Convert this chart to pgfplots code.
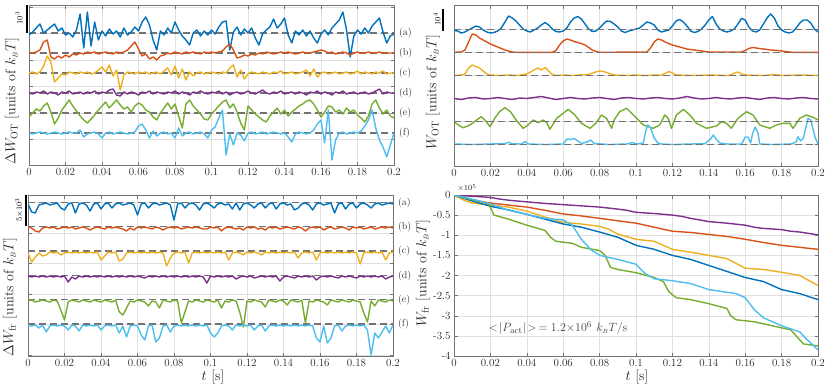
\documentclass[border=0pt]{standalone}
\usepackage{pgfplots}
\pgfplotsset{compat=1.18}
\usepackage{pgfplotstable}

% MATLAB default line colours
\definecolor{mA}{rgb}{0,0.447,0.741}
\definecolor{mB}{rgb}{0.850,0.325,0.098}
\definecolor{mC}{rgb}{0.929,0.694,0.125}
\definecolor{mD}{rgb}{0.494,0.184,0.556}
\definecolor{mE}{rgb}{0.466,0.674,0.188}
\definecolor{mF}{rgb}{0.301,0.745,0.933}

% offset traces, y in panel rows (top = small), one column per trace
\pgfplotstableread{
t a b c d e f
0.000 35 53 73 93 117 133
0.002 32 53 72 94 113 134
0.004 28 52 74 92 109 133
0.006 24 50 72 93 111 132
0.008 33 42 66 91 106 133
0.010 30 40 56 94 103 134
0.012 27 57 62 92 112 133
0.014 24 59 82 93 124 132
0.016 31 56 78 95 118 133
0.018 28 58 74 92 110 134
0.020 35 55 75 93 105 133
0.022 33 57 72 91 100 132
0.024 37 54 73 94 106 133
0.026 30 55 74 93 111 133
0.028 14 53 72 92 116 130
0.030 48 54 73 94 120 137
0.032 12 52 72 92 123 134
0.034 46 53 74 93 119 133
0.036 22 52 73 91 115 132
0.038 40 54 70 94 110 134
0.040 31 53 67 92 106 138
0.042 36 52 72 93 102 133
0.044 29 53 65 90 108 132
0.046 34 54 76 89 104 134
0.048 31 52 70 95 100 133
0.050 37 53 90 96 105 132
0.052 28 52 75 92 109 133
0.054 35 50 72 94 107 134
0.056 32 46 73 92 112 133
0.058 27 42 74 93 106 132
0.060 31 49 72 95 103 126
0.062 22 56 73 92 105 124
0.064 17 54 72 93 110 130
0.066 25 59 74 91 112 138
0.068 40 57 73 94 117 131
0.070 50 60 72 92 120 136
0.072 31 56 74 93 113 133
0.074 35 55 71 94 108 132
0.076 28 53 68 92 103 134
0.078 33 54 75 93 109 133
0.080 22 52 66 91 104 138
0.082 30 53 78 94 116 128
0.084 36 54 69 92 128 136
0.086 40 52 80 93 104 133
0.088 45 53 72 95 100 132
0.090 33 52 76 92 106 134
0.092 30 53 73 93 110 133
0.094 36 54 72 91 114 132
0.096 31 52 74 93 119 134
0.098 35 53 73 94 120 138
0.100 30 52 72 92 114 130
0.102 34 53 73 93 110 127
0.104 27 52 74 91 106 118
0.106 22 51 72 94 102 110
0.108 21 47 73 92 100 155
0.110 50 44 68 95 108 134
0.112 32 50 65 93 104 145
0.114 27 58 77 92 112 133
0.116 35 57 70 94 123 135
0.118 29 55 79 93 130 141
0.120 33 56 74 91 106 133
0.122 28 54 72 93 110 132
0.124 38 55 73 94 114 134
0.126 45 53 74 92 117 133
0.128 34 54 72 90 120 132
0.130 30 52 73 93 122 134
0.132 27 53 74 94 116 133
0.134 19 54 72 92 112 132
0.136 28 53 73 93 108 133
0.138 24 52 71 91 114 134
0.140 18 53 74 94 110 133
0.142 35 52 73 93 116 137
0.144 43 53 72 92 112 142
0.146 31 54 74 94 109 134
0.148 35 53 73 92 106 132
0.150 30 52 72 93 104 133
0.152 36 53 70 95 101 134
0.154 31 53 76 92 100 133
0.156 38 52 69 93 104 130
0.158 43 51 77 91 110 124
0.160 34 50 73 94 117 120
0.162 30 51 72 92 112 143
0.164 35 53 74 93 106 110
0.166 28 52 73 95 107 160
0.168 24 54 72 92 112 140
0.170 20 53 74 93 110 133
0.172 12 52 73 91 114 132
0.174 30 53 72 94 108 134
0.176 57 55 74 93 112 133
0.178 36 53 73 92 110 132
0.180 30 52 71 94 115 133
0.182 34 53 74 93 118 131
0.184 28 53 72 92 122 126
0.186 33 52 73 94 116 120
0.188 26 53 74 93 104 110
0.190 22 53 72 91 100 128
0.192 18 52 73 89 108 140
0.194 32 53 71 94 114 147
0.196 43 53 74 92 110 157
0.198 36 53 73 93 116 145
0.200 34 53 73 93 118 133
}\tlData

\pgfplotstableread{
t a b c d e f
0.000 204 227 253 276 301 325
0.002 212 228 262 277 300 326
0.004 213 231 257 276 302 325
0.006 205 232 253 277 301 328
0.008 204 228 256 276 300 325
0.010 203 227 255 277 301 332
0.012 205 228 252 276 302 326
0.014 204 227 253 277 300 325
0.016 203 229 252 276 301 326
0.018 208 228 255 277 310 325
0.020 210 227 253 276 320 326
0.022 204 228 252 282 302 330
0.024 203 227 253 277 300 325
0.026 213 229 252 279 301 326
0.028 204 228 253 276 302 331
0.030 203 227 252 277 300 325
0.032 205 228 253 276 301 326
0.034 211 230 252 277 302 325
0.036 204 228 253 276 300 326
0.038 203 227 252 277 301 325
0.040 209 228 260 276 302 330
0.042 204 229 256 277 300 326
0.044 203 227 252 276 301 325
0.046 208 228 253 277 302 326
0.048 204 227 252 276 300 325
0.050 203 228 261 277 312 333
0.052 205 229 259 276 315 326
0.054 204 231 253 277 308 337
0.056 203 228 252 276 301 326
0.058 205 230 253 277 302 325
0.060 215 227 252 276 300 326
0.062 204 228 253 277 301 335
0.064 203 227 252 278 302 340
0.066 208 228 253 276 306 326
0.068 204 229 252 277 301 325
0.070 203 227 253 276 302 342
0.072 205 228 252 277 308 338
0.074 204 230 253 276 300 326
0.076 203 228 266 277 301 325
0.078 205 227 258 276 302 332
0.080 220 228 253 277 300 326
0.082 204 227 252 276 301 325
0.084 203 229 253 277 323 326
0.086 208 228 252 276 312 325
0.088 204 227 263 277 301 326
0.090 203 228 253 276 302 325
0.092 205 227 252 277 300 326
0.094 210 228 253 276 301 325
0.096 204 229 252 277 302 326
0.098 203 229 253 283 300 325
0.100 205 227 252 276 301 333
0.102 208 228 253 277 302 337
0.104 204 227 252 276 300 333
0.106 203 231 253 277 308 326
0.108 205 228 252 276 301 325
0.110 204 227 260 277 302 326
0.112 209 228 253 276 300 330
0.114 203 229 252 279 301 325
0.116 210 228 253 277 312 326
0.118 204 230 255 276 327 325
0.120 203 227 252 277 301 326
0.122 205 228 253 276 302 325
0.124 208 227 252 278 300 330
0.126 204 229 253 277 301 326
0.128 203 228 255 276 302 325
0.130 208 230 252 277 307 331
0.132 204 227 253 276 300 326
0.134 203 228 252 277 301 325
0.136 209 227 253 276 302 326
0.138 204 229 252 281 300 325
0.140 203 228 253 277 301 326
0.142 205 227 252 276 305 325
0.144 204 228 253 277 300 326
0.146 210 229 252 278 301 325
0.148 208 227 258 276 302 326
0.150 204 228 253 277 300 325
0.152 203 231 252 276 323 326
0.154 205 228 253 277 301 325
0.156 210 227 252 276 302 326
0.158 204 228 260 280 300 338
0.160 203 227 253 277 301 342
0.162 205 230 252 276 302 326
0.164 204 228 253 277 305 343
0.166 203 227 252 276 300 338
0.168 213 229 253 277 301 326
0.170 204 228 252 278 302 325
0.172 203 227 253 276 300 331
0.174 209 228 252 277 301 326
0.176 204 230 253 276 302 325
0.178 203 227 252 277 300 326
0.180 208 228 253 278 301 325
0.182 204 227 264 276 302 326
0.184 203 229 253 277 313 325
0.186 205 228 252 276 322 330
0.188 208 227 253 277 301 355
0.190 204 229 252 276 306 333
0.192 203 228 253 277 300 338
0.194 205 227 252 276 301 332
0.196 204 228 260 279 302 326
0.198 203 227 253 277 300 333
0.200 204 228 252 276 301 325
}\blData

\pgfplotsset{mpanel/.style={
  scale only axis, clip mode=individual,
  xmin=0, xmax=0.2,
  xtick={0,0.02,0.04,0.06,0.08,0.1,0.12,0.14,0.16,0.18,0.2},
  xticklabels={0,0.02,0.04,0.06,0.08,0.1,0.12,0.14,0.16,0.18,0.2},
  grid=major, grid style={draw=black!12, line width=0.5bp},
  axis line style={draw=black!55, line width=0.6bp},
  tick style={draw=black!55, line width=0.5bp},
  tick align=inside, major tick length=3.5bp,
  ticklabel style={font=\fontsize{11}{12}\selectfont, text=black!85},
  every axis plot/.append style={line width=1.4bp, line join=round},
},
nolabels/.style={yticklabels={,,,,,,,,}}}
\tikzset{
  basel/.style={draw=black!55, line width=1.2bp, dash pattern=on 7bp off 4bp},
  tag/.style={anchor=west, xshift=1.5bp, font=\fontsize{10}{10}\selectfont, text=black!80},
  bigl/.style={font=\fontsize{14}{16}\selectfont, text=black!85},
  sbar/.style={draw=black, line width=2bp},
  sbl/.style={rotate=90, font=\fontsize{8}{8}\selectfont},
}

\begin{document}
\begin{tikzpicture}
\useasboundingbox (0,0) rectangle (830bp,-386bp);

% ---- top left: Delta W_OT
\begin{axis}[mpanel, at={(29bp,-5bp)}, anchor=north west,
  width=365bp, height=160bp, ymin=5, ymax=165, y dir=reverse,
  ytick={7,33.5,60,86.5,113,139.5}, nolabels]
\draw[basel] (axis cs:0,33) -- (axis cs:0.2,33);
\draw[basel] (axis cs:0,53) -- (axis cs:0.2,53);
\draw[basel] (axis cs:0,73) -- (axis cs:0.2,73);
\draw[basel] (axis cs:0,93) -- (axis cs:0.2,93);
\draw[basel] (axis cs:0,113) -- (axis cs:0.2,113);
\draw[basel] (axis cs:0,133) -- (axis cs:0.2,133);
\addplot[mA] table[x=t,y=a]{\tlData};
\addplot[mB] table[x=t,y=b]{\tlData};
\addplot[mC] table[x=t,y=c]{\tlData};
\addplot[mD] table[x=t,y=d]{\tlData};
\addplot[mE] table[x=t,y=e]{\tlData};
\addplot[mF] table[x=t,y=f]{\tlData};
\node[tag] at (axis cs:0.2,33) {(a)};
\node[tag] at (axis cs:0.2,53) {(b)};
\node[tag] at (axis cs:0.2,73) {(c)};
\node[tag] at (axis cs:0.2,93) {(d)};
\node[tag] at (axis cs:0.2,113) {(e)};
\node[tag] at (axis cs:0.2,133) {(f)};
\draw[sbar] (axis cs:-0.0012,5) -- (axis cs:-0.0012,33);
\node[sbl] at (axis cs:-0.0055,18) {$10^3$};
\end{axis}

% ---- top right: W_OT
\begin{axis}[mpanel, at={(454bp,-5bp)}, anchor=north west,
  width=364bp, height=161bp, ymin=5, ymax=166, y dir=reverse,
  ytick={29.3,52.3,75.3,98.3,121.3,144.3}, nolabels]
\addplot[mA] coordinates {(0,30.5)(0.002,31)(0.004,33)(0.006,32)(0.008,30)(0.01,28)(0.012,26)(0.014,27)(0.016,30)(0.018,32)(0.02,33)(0.022,32.5)(0.024,31)(0.026,28)(0.028,22)(0.03,16)(0.032,18)(0.034,21)(0.036,25)(0.038,29)(0.04,31)(0.042,32)(0.044,30)(0.046,28)(0.048,25)(0.05,22.5)(0.052,25)(0.054,29)(0.056,31.5)(0.058,32)(0.06,31)(0.062,28)(0.064,22)(0.066,18)(0.068,16.5)(0.07,19)(0.072,24)(0.074,29)(0.076,31.5)(0.078,31)(0.08,28)(0.082,24)(0.084,21)(0.086,21.5)(0.088,24)(0.09,27)(0.092,31)(0.094,32.5)(0.096,31)(0.098,30)(0.1,29)(0.102,28)(0.104,25)(0.106,22)(0.108,23)(0.11,25)(0.112,30)(0.114,32)(0.116,31)(0.118,30)(0.12,26)(0.122,21)(0.124,19.5)(0.126,22)(0.128,26)(0.13,31)(0.132,32.5)(0.134,31.5)(0.136,29)(0.138,25)(0.14,20)(0.142,16.5)(0.144,24)(0.146,29)(0.148,31)(0.15,32)(0.152,31)(0.154,29)(0.156,24)(0.158,18.5)(0.16,20)(0.162,27)(0.164,31)(0.166,32)(0.168,30)(0.17,24)(0.172,18)(0.174,14)(0.176,18)(0.178,26)(0.18,30)(0.182,32)(0.184,33)(0.186,32)(0.188,28)(0.19,23)(0.192,20)(0.194,20)(0.196,23)(0.198,29)(0.2,32)};
\addplot[mB] coordinates {(0,52.3)(0.004,52)(0.006,50)(0.008,42)(0.010,34)(0.012,35)(0.014,38)(0.016,40)(0.018,42)(0.02,44)(0.022,45.5)(0.024,47)(0.026,48.5)(0.028,50)(0.03,51)(0.032,52)(0.034,52.3)(0.054,52.3)(0.056,50.5)(0.058,45)(0.06,41)(0.062,39)(0.064,40)(0.066,41.5)(0.068,42.5)(0.07,43.5)(0.072,45)(0.074,47.5)(0.076,50)(0.078,51.5)(0.08,52.3)(0.106,52)(0.108,48)(0.11,42)(0.112,39)(0.114,40)(0.116,42)(0.118,43.5)(0.12,45)(0.122,46)(0.124,47)(0.126,48)(0.128,49)(0.13,49.5)(0.134,50.5)(0.138,51.5)(0.14,52)(0.158,52)(0.16,50.5)(0.162,48.5)(0.164,47.5)(0.166,48)(0.17,49)(0.174,50)(0.178,50.5)(0.182,51.5)(0.186,52.3)(0.2,52.3)};
\addplot[mC] coordinates {(0,75.5)(0.004,75)(0.006,74)(0.008,68)(0.010,65)(0.012,66.5)(0.014,68)(0.016,71)(0.018,74)(0.02,75)(0.025,75.5)(0.03,75)(0.035,75.5)(0.038,74.5)(0.04,74)(0.042,72)(0.044,70)(0.046,68)(0.048,70)(0.05,67.5)(0.052,71)(0.054,74.5)(0.056,75.5)(0.06,75)(0.065,75.5)(0.07,74.8)(0.074,74.5)(0.076,73)(0.078,72)(0.08,71)(0.082,71.5)(0.084,72.5)(0.086,74)(0.088,75)(0.095,75.5)(0.1,75)(0.105,75.5)(0.11,75)(0.114,75)(0.116,73.5)(0.118,71.5)(0.12,73)(0.122,75)(0.13,75.5)(0.14,75)(0.15,75.5)(0.152,75)(0.154,73)(0.156,72)(0.158,74)(0.16,75)(0.17,75.5)(0.176,74.5)(0.18,75.5)(0.19,75)(0.2,75.5)};
\addplot[mD] coordinates {(0,98.5)(0.004,99.5)(0.008,98)(0.012,97.5)(0.016,99)(0.02,98.5)(0.024,97.5)(0.028,98.5)(0.032,99.5)(0.036,98)(0.04,98.5)(0.044,97.5)(0.048,96.5)(0.052,98)(0.056,99.5)(0.06,98.5)(0.064,97.5)(0.068,98.5)(0.072,99)(0.076,98)(0.08,97.5)(0.084,98.5)(0.088,99.5)(0.092,98)(0.096,97.5)(0.1,98.5)(0.104,99)(0.108,98)(0.112,97.5)(0.116,98.5)(0.12,99)(0.124,98)(0.128,96.5)(0.132,98)(0.136,99)(0.14,98.5)(0.144,97.5)(0.148,98.5)(0.152,99)(0.156,98)(0.16,97.5)(0.164,98.5)(0.168,99.5)(0.172,98)(0.176,97.5)(0.18,98.5)(0.184,99)(0.188,98)(0.192,97.5)(0.196,98.5)(0.2,99)};
\addplot[mE] coordinates {(0,121.7)(0.0024,125)(0.005,127.7)(0.0088,125)(0.0124,120)(0.015,116.7)(0.017,120)(0.0198,126.7)(0.0225,118)(0.025,111.7)(0.028,107.7)(0.031,111.7)(0.0344,120.7)(0.038,128.3)(0.04,126)(0.0436,120)(0.0463,122.7)(0.049,120)(0.051,122.7)(0.0527,129.3)(0.0564,118.3)(0.06,113.3)(0.0628,109.3)(0.0664,115)(0.07,123.3)(0.0747,128.3)(0.078,123.3)(0.081,115)(0.0838,118.3)(0.0866,128.3)(0.088,120)(0.091,111.7)(0.0948,108.3)(0.0985,115)(0.104,125)(0.1094,128.3)(0.113,125)(0.1158,115)(0.1177,118.3)(0.1195,128.3)(0.1222,115)(0.126,109.3)(0.1296,115)(0.1332,123.3)(0.1387,128.3)(0.1442,126)(0.147,121.7)(0.1497,123.3)(0.1524,128.3)(0.156,118.3)(0.1607,111.7)(0.1643,115)(0.168,125)(0.1735,128.3)(0.1771,125)(0.1808,123.3)(0.1845,123.3)(0.1863,128.3)(0.19,118.3)(0.1936,115)(0.1973,117.3)(0.2,120)};
\addplot[mF] coordinates {(0,144)(0.01,144.5)(0.02,144)(0.028,143.5)(0.03,142.3)(0.032,143.8)(0.037,144)(0.039,141.5)(0.041,144)(0.05,144.5)(0.06,144)(0.062,139)(0.064,139.5)(0.066,138.5)(0.068,141)(0.07,143.5)(0.073,142)(0.075,140)(0.077,143.5)(0.085,144.5)(0.095,144)(0.098,142.5)(0.1,144)(0.104,143)(0.1055,130)(0.1065,125)(0.108,128)(0.11,138)(0.112,143)(0.114,144)(0.12,144.5)(0.13,144)(0.138,143.5)(0.141,139)(0.1425,135)(0.144,139)(0.146,143)(0.15,144)(0.158,144)(0.16,137)(0.1615,137)(0.163,143)(0.164,134)(0.1655,127)(0.167,133)(0.168,144)(0.175,144.5)(0.185,144)(0.188,142)(0.189,136.7)(0.1905,141)(0.192,138)(0.1945,118.3)(0.196,120)(0.1985,138)(0.2,144)};
\draw[basel] (axis cs:0,29.3) -- (axis cs:0.2,29.3);
\draw[basel] (axis cs:0,52.3) -- (axis cs:0.2,52.3);
\draw[basel] (axis cs:0,75.3) -- (axis cs:0.2,75.3);
\draw[basel] (axis cs:0,121.3) -- (axis cs:0.2,121.3);
\draw[basel] (axis cs:0,144.3) -- (axis cs:0.2,144.3);
\draw[sbar] (axis cs:-0.006,9) -- (axis cs:-0.006,31);
\node[sbl] at (axis cs:-0.0093,19) {$10^4$};
\end{axis}

% ---- bottom left: Delta W_fr
\begin{axis}[mpanel, at={(28bp,-195bp)}, anchor=north west,
  width=365bp, height=161bp, ymin=195, ymax=356, y dir=reverse,
  ytick={202.7,233.2,263.7,294.2,324.7,355.2}, nolabels]
\draw[basel] (axis cs:0,202.5) -- (axis cs:0.2,202.5);
\draw[basel] (axis cs:0,226.5) -- (axis cs:0.2,226.5);
\draw[basel] (axis cs:0,251) -- (axis cs:0.2,251);
\draw[basel] (axis cs:0,275.5) -- (axis cs:0.2,275.5);
\draw[basel] (axis cs:0,299.5) -- (axis cs:0.2,299.5);
\draw[basel] (axis cs:0,324) -- (axis cs:0.2,324);
\addplot[mA] table[x=t,y=a]{\blData};
\addplot[mB] table[x=t,y=b]{\blData};
\addplot[mC] table[x=t,y=c]{\blData};
\addplot[mD] table[x=t,y=d]{\blData};
\addplot[mE] table[x=t,y=e]{\blData};
\addplot[mF] table[x=t,y=f]{\blData};
\node[tag] at (axis cs:0.2,203) {(a)};
\node[tag] at (axis cs:0.2,227) {(b)};
\node[tag] at (axis cs:0.2,251.5) {(c)};
\node[tag] at (axis cs:0.2,276) {(d)};
\node[tag] at (axis cs:0.2,300) {(e)};
\node[tag] at (axis cs:0.2,324.5) {(f)};
\draw[sbar] (axis cs:-0.0011,195) -- (axis cs:-0.0011,225.5);
\node[sbl] at (axis cs:-0.0049,210) {$5{\times}10^3$};
\end{axis}

% ---- bottom right: W_fr (units of 10^5)
\begin{axis}[mpanel, at={(454bp,-195bp)}, anchor=north west,
  width=364bp, height=161bp, ymin=-4, ymax=0,
  ytick={-4,-3.5,-3,-2.5,-2,-1.5,-1,-0.5,0},
  yticklabels={-4,-3.5,-3,-2.5,-2,-1.5,-1,-0.5,0}]
\addplot[mD] coordinates {(0,0)(0.005,-0.02)(0.01,-0.03)(0.02,-0.06)(0.025,-0.1)(0.03,-0.13)(0.04,-0.17)(0.05,-0.21)(0.06,-0.24)(0.07,-0.27)(0.08,-0.3)(0.09,-0.35)(0.095,-0.38)(0.1,-0.43)(0.11,-0.46)(0.12,-0.5)(0.125,-0.53)(0.13,-0.58)(0.14,-0.66)(0.15,-0.7)(0.16,-0.75)(0.165,-0.8)(0.17,-0.83)(0.18,-0.86)(0.185,-0.9)(0.19,-0.92)(0.2,-0.99)};
\addplot[mB] coordinates {(0,0)(0.01,-0.12)(0.02,-0.2)(0.03,-0.25)(0.04,-0.3)(0.05,-0.38)(0.06,-0.47)(0.07,-0.52)(0.08,-0.58)(0.09,-0.64)(0.1,-0.7)(0.11,-0.8)(0.12,-0.9)(0.13,-0.93)(0.14,-0.98)(0.15,-1.03)(0.16,-1.1)(0.17,-1.18)(0.18,-1.25)(0.19,-1.3)(0.2,-1.35)};
\addplot[mC] coordinates {(0,0)(0.005,-0.12)(0.01,-0.2)(0.02,-0.25)(0.03,-0.3)(0.04,-0.4)(0.05,-0.55)(0.06,-0.68)(0.07,-0.72)(0.08,-0.78)(0.085,-0.85)(0.09,-0.97)(0.1,-1.1)(0.11,-1.15)(0.12,-1.35)(0.13,-1.42)(0.14,-1.5)(0.15,-1.58)(0.155,-1.7)(0.16,-1.82)(0.17,-1.85)(0.18,-1.92)(0.19,-2.0)(0.2,-2.25)};
\addplot[mA] coordinates {(0,0)(0.01,-0.15)(0.02,-0.28)(0.03,-0.37)(0.04,-0.48)(0.05,-0.6)(0.06,-0.72)(0.07,-0.8)(0.08,-0.92)(0.09,-1.05)(0.1,-1.25)(0.11,-1.35)(0.12,-1.5)(0.13,-1.6)(0.14,-1.75)(0.15,-1.9)(0.16,-2.05)(0.17,-2.15)(0.18,-2.35)(0.19,-2.45)(0.2,-2.6)};
\addplot[mE] coordinates {(0,0)(0.01,-0.12)(0.019,-0.22)(0.022,-0.5)(0.03,-0.6)(0.04,-0.75)(0.05,-0.88)(0.053,-1.05)(0.056,-1.15)(0.065,-1.2)(0.07,-1.3)(0.08,-1.38)(0.083,-1.5)(0.086,-1.8)(0.09,-1.85)(0.1,-1.93)(0.11,-2.05)(0.115,-2.15)(0.118,-2.4)(0.122,-2.55)(0.13,-2.6)(0.14,-2.7)(0.15,-2.82)(0.152,-3.0)(0.155,-3.1)(0.165,-3.15)(0.175,-3.25)(0.185,-3.35)(0.188,-3.5)(0.192,-3.7)(0.2,-3.75)};
\addplot[mF] coordinates {(0,0)(0.01,-0.1)(0.02,-0.22)(0.03,-0.38)(0.04,-0.48)(0.05,-0.58)(0.06,-0.62)(0.065,-0.75)(0.07,-1.1)(0.075,-1.35)(0.08,-1.5)(0.09,-1.6)(0.1,-1.72)(0.105,-1.95)(0.11,-2.08)(0.12,-2.13)(0.13,-2.2)(0.14,-2.35)(0.155,-2.45)(0.16,-2.55)(0.165,-2.85)(0.17,-3.05)(0.18,-3.25)(0.19,-3.4)(0.193,-3.55)(0.2,-3.85)};
\end{axis}

% labels
\node[bigl, rotate=90] at (12bp,-101bp) {$\Delta W_{\rm OT}$ [units of $k_{\scriptscriptstyle B}T$]};
\node[bigl, rotate=90] at (433bp,-92bp) {$W_{\rm OT}$ [units of $k_{\scriptscriptstyle B}T$]};
\node[bigl, rotate=90] at (10bp,-297bp) {$\Delta W_{\rm fr}$ [units of $k_{\scriptscriptstyle B}T$]};
\node[bigl, rotate=90] at (423bp,-273bp) {$W_{\rm fr}$ [units of $k_{\scriptscriptstyle B}T$]};
\node[bigl] at (213bp,-377bp) {$t$ [s]};
\node[bigl] at (637bp,-377bp) {$t$ [s]};
\node[font=\fontsize{8}{8}\selectfont, text=black!85] at (467bp,-188bp) {$\times10^5$};
\node[font=\fontsize{13}{14}\selectfont, text=black!75] at (558bp,-328bp) {$<\!|P_{\rm act}|\!>\, = 1.2{\times}10^6\ k_{\scriptscriptstyle B}T/{\rm s}$};
\end{tikzpicture}
\end{document}
